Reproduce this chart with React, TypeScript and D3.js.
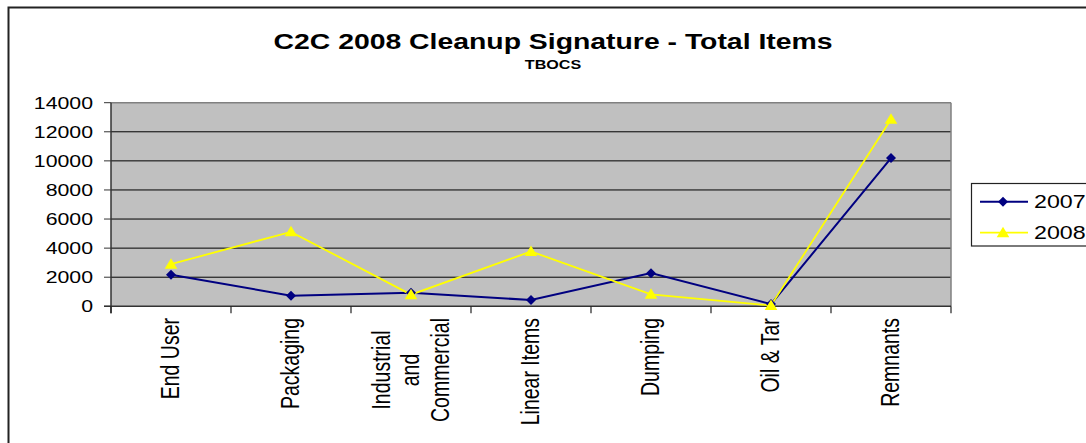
import React, { useMemo } from "react";
import * as d3 from "d3";

const categories = ["End User", "Packaging", "Industrial\nand\nCommercial", "Linear Items", "Dumping", "Oil & Tar", "Remnants"];
const series2007 = [2170, 730, 940, 430, 2280, 150, 10190];
const series2008 = [2900, 5120, 800, 3770, 820, 60, 12860];
const yTicks = [0, 2000, 4000, 6000, 8000, 10000, 12000, 14000];
const seriesNames = ["2007", "2008"];

const W = 1086, H = 443;
const PL = 111, PR = 951, PT = 102.7, PB = 306.3;
const SX = 1.29;
const FONT = "'Liberation Sans', Arial, sans-serif";
const CAT_FS = 19.5;

function measure(text: string, fs: number): number {
  try {
    const c = document.createElement("canvas");
    const ctx = c.getContext("2d");
    if (ctx) {
      ctx.font = `${fs}px "Liberation Sans", Arial, sans-serif`;
      const w = ctx.measureText(text).width;
      if (w > 0) return w;
    }
  } catch (e) {}
  return text.length * fs * 0.5;
}

function diamond(cx: number, cy: number, r: number) {
  return `M${cx},${cy - r}L${cx + r},${cy}L${cx},${cy + r}L${cx - r},${cy}Z`;
}
function triangle(cx: number, cy: number, r: number) {
  return `M${cx},${cy - r}L${cx + r * 1.05},${cy + r * 0.75}L${cx - r * 1.05},${cy + r * 0.75}Z`;
}

export default function App() {
  const x = d3.scaleBand<string>().domain(categories).range([PL, PR]).padding(0);
  const y = d3.scaleLinear().domain([0, 14000]).range([PB, PT]);
  const bw = x.bandwidth();
  const cx = (c: string) => (x(c) as number) + bw / 2;

  const line = d3
    .line<number>()
    .x((_, i) => cx(categories[i]))
    .y((d) => y(d));

  const catLayout = useMemo(
    () =>
      categories.map((c) => {
        const lines = c.split("\n");
        const maxW = Math.max(...lines.map((l) => measure(l, CAT_FS)));
        return { lines, maxW };
      }),
    []
  );

  const t = (tx: number, ty: number) => `translate(${tx},${ty}) scale(${SX},1)`;
  const lineGap = 23 * SX;

  return (
    <svg width={W} height={H} style={{ position: "absolute", left: 0, top: 0, background: "#fff" }}>
      <rect x={8.5} y={7.5} width={1200} height={600} fill="#fff" stroke="#222" strokeWidth={2} />
      <text transform={t(553, 49)} textAnchor="middle" fontFamily={FONT} fontWeight="bold" fontSize={22} fill="#000">
        C2C 2008 Cleanup Signature - Total Items
      </text>
      <text transform={t(553, 69)} textAnchor="middle" fontFamily={FONT} fontWeight="bold" fontSize={12.5} fill="#000">
        TBOCS
      </text>

      <rect x={PL} y={PT} width={PR - PL} height={PB - PT} fill="#c0c0c0" />
      {yTicks.slice(1, -1).map((v) => (
        <line key={v} x1={PL} x2={PR} y1={y(v)} y2={y(v)} stroke="#000" strokeWidth={1} />
      ))}
      <line x1={PL} x2={PR} y1={PT} y2={PT} stroke="#808080" strokeWidth={1.5} />
      <line x1={PR} x2={PR} y1={PT} y2={PB} stroke="#808080" strokeWidth={1.5} />
      <line x1={PL} x2={PL} y1={PT} y2={PB + 7} stroke="#333" strokeWidth={1.5} />
      <line x1={PL - 7} x2={PR} y1={PB} y2={PB} stroke="#333" strokeWidth={1.5} />

      {yTicks.map((v) => (
        <g key={v}>
          <line x1={PL - 7} x2={PL} y1={y(v)} y2={y(v)} stroke="#333" strokeWidth={1} />
          <text transform={t(PL - 18, y(v) + 6)} textAnchor="end" fontFamily={FONT} fontSize={16.5} fill="#000">
            {v}
          </text>
        </g>
      ))}
      {d3.range(categories.length + 1).map((i) => (
        <line key={i} x1={PL + i * bw} x2={PL + i * bw} y1={PB} y2={PB + 7} stroke="#222" strokeWidth={1.2} />
      ))}

      {categories.map((c, i) => {
        const { lines, maxW } = catLayout[i];
        const n = lines.length;
        const yc = 318 + maxW / 2;
        return lines.map((l, j) => (
          <text
            key={c + j}
            transform={`translate(${cx(c) + (j - (n - 1) / 2) * lineGap},${yc}) scale(${SX},1) rotate(-90)`}
            textAnchor="middle"
            dominantBaseline="central"
            fontFamily={FONT}
            fontSize={CAT_FS}
            fill="#000"
          >
            {l}
          </text>
        ));
      })}

      <path d={line(series2007) || ""} fill="none" stroke="#000080" strokeWidth={2} />
      <path d={line(series2008) || ""} fill="none" stroke="#ffff00" strokeWidth={1.8} />
      {series2007.map((v, i) => (
        <path key={"a" + i} d={diamond(cx(categories[i]), y(v), 5)} fill="#000080" />
      ))}
      {series2008.map((v, i) => (
        <path key={"b" + i} d={triangle(cx(categories[i]), y(v), 6)} fill="#ffff00" />
      ))}

      <rect x={971.5} y={183.5} width={200} height={62.5} fill="#fff" stroke="#222" strokeWidth={1.2} />
      <line x1={980} x2={1028} y1={201.7} y2={201.7} stroke="#000080" strokeWidth={2} />
      <path d={diamond(1003, 201.7, 5)} fill="#000080" />
      <text transform={t(1034, 208)} fontFamily={FONT} fontSize={18} fill="#000">
        {seriesNames[0]}
      </text>
      <line x1={980} x2={1028} y1={232.7} y2={232.7} stroke="#ffff00" strokeWidth={1.8} />
      <path d={triangle(1003, 232.7, 6)} fill="#ffff00" />
      <text transform={t(1034, 239)} fontFamily={FONT} fontSize={18} fill="#000">
        {seriesNames[1]}
      </text>
    </svg>
  );
}
